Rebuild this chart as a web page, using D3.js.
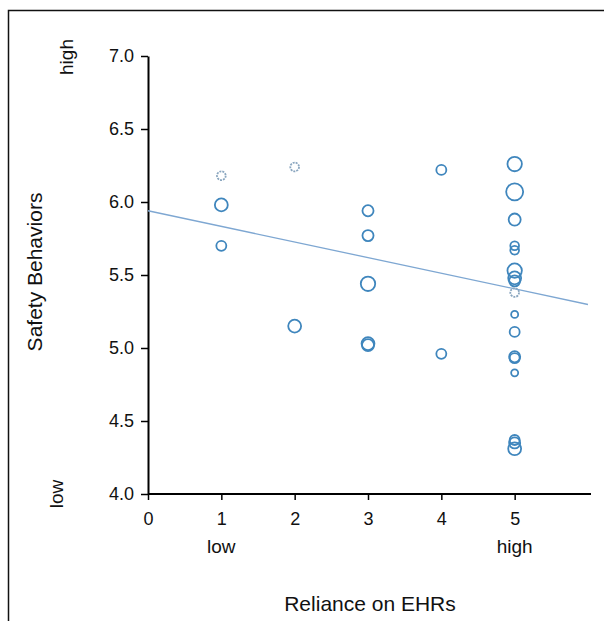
<!DOCTYPE html>
<html>
<head>
<meta charset="utf-8">
<script src="https://cdn.jsdelivr.net/npm/d3@7"></script>
<style>
  body { margin: 0; background: #fff; }
  svg { display: block; }
  .tick text { font-family: "Liberation Sans", Arial, sans-serif; font-size: 18px; fill: #111; }
  .lbl { font-family: "Liberation Sans", Arial, sans-serif; fill: #111; }
</style>
</head>
<body>
<div id="chart"></div>
<script>
// reliance on EHRs (x), safety behaviors (y), relative weight (circle size)
const reliance = [1, 1, 1, 2, 2, 3, 3, 3, 3, 3, 4, 4,
                  5, 5, 5, 5, 5, 5, 5, 5, 5, 5, 5, 5, 5, 5, 5, 5, 5];
const safety   = [6.18, 5.98, 5.70, 6.24, 5.15, 5.94, 5.77, 5.44, 5.03, 5.02, 6.22, 4.96,
                  6.26, 6.07, 5.88, 5.70, 5.67, 5.53, 5.48, 5.46, 5.38, 5.23, 5.11, 4.94, 4.93, 4.83, 4.37, 4.35, 4.31];
const weight   = [1, 3, 1.5, 1, 3, 2, 2, 4, 3, 2.5, 1.5, 1.5,
                  4, 6, 2.5, 1, 1, 4, 3, 2, 1, 0.5, 1.5, 2, 1.5, 0.5, 1.5, 2, 3];
const faded    = [true, false, false, true, false, false, false, false, false, false, false, false,
                  false, false, false, false, false, false, false, false, true, false, false, false, false, false, false, false, false];
const fit = {intercept: 5.94, slope: -0.107};
const xTicks = [0, 1, 2, 3, 4, 5];
const yTicks = [4.0, 4.5, 5.0, 5.5, 6.0, 6.5, 7.0];

const W = 604, H = 621;
const svg = d3.select('#chart').append('svg').attr('width', W).attr('height', H);

// frame (only top and left edges visible in the crop)
svg.append('path').attr('d', 'M8.5,' + H + 'V10.5H' + W)
    .attr('fill', 'none').attr('stroke', '#111').attr('stroke-width', 1.5);

const x = d3.scaleLinear().domain([0, 6]).range([148, 588]);
const y = d3.scaleLinear().domain([4, 7]).range([494, 56]);
const r = d3.scaleSqrt().domain([0, 6]).range([0, 7]);

const xAxis = svg.append('g')
    .attr('transform', 'translate(0,' + y(4) + ')')
    .call(d3.axisBottom(x).tickValues(xTicks).tickFormat(d3.format('d')).tickSize(6).tickSizeOuter(0).tickPadding(12));
xAxis.select('.domain').attr('d', 'M' + x(0) + ',0H' + (x(6) + 3)).attr('stroke-width', 2);
xAxis.selectAll('.tick line').attr('stroke-width', 1.5);

const yAxis = svg.append('g')
    .attr('transform', 'translate(' + x(0) + ',0)')
    .call(d3.axisLeft(y).tickValues(yTicks).tickFormat(d3.format('.1f')).tickSize(7).tickSizeOuter(0).tickPadding(7));
yAxis.select('.domain').attr('stroke-width', 2);
yAxis.selectAll('.tick line').attr('stroke-width', 1.5);

// regression line
svg.append('line')
    .attr('x1', x(0)).attr('y1', y(fit.intercept))
    .attr('x2', x(6)).attr('y2', y(fit.intercept + fit.slope * 6))
    .attr('stroke', '#7ea7d2').attr('stroke-width', 1.3);

const pts = reliance.map((d, i) => ({x: d, y: safety[i], w: weight[i], f: faded[i]}));
svg.append('g').selectAll('circle').data(pts).enter()
    .append('circle')
    .attr('cx', d => x(d.x))
    .attr('cy', d => y(d.y))
    .attr('r', d => r(d.w) + 1.5)
    .attr('fill', 'none')
    .attr('stroke', d => d.f ? '#8aa6bf' : '#3f86bd')
    .attr('stroke-dasharray', d => d.f ? '2,1' : null)
    .attr('stroke-width', 1.8);

// axis labels
svg.append('text').attr('class', 'lbl').attr('x', x(1)).attr('y', 553)
    .attr('text-anchor', 'middle').attr('font-size', 19).text('low');
svg.append('text').attr('class', 'lbl').attr('x', x(5)).attr('y', 553)
    .attr('text-anchor', 'middle').attr('font-size', 19).text('high');
svg.append('text').attr('class', 'lbl').attr('x', 370).attr('y', 611)
    .attr('text-anchor', 'middle').attr('font-size', 21).text('Reliance on EHRs');

svg.append('text').attr('class', 'lbl')
    .attr('transform', 'translate(73,' + 57 + ') rotate(-90)')
    .attr('text-anchor', 'middle').attr('font-size', 19).text('high');
svg.append('text').attr('class', 'lbl')
    .attr('transform', 'translate(63,' + y(4) + ') rotate(-90)')
    .attr('text-anchor', 'middle').attr('font-size', 19).text('low');
svg.append('text').attr('class', 'lbl')
    .attr('transform', 'translate(42,272) rotate(-90)')
    .attr('text-anchor', 'middle').attr('font-size', 21).text('Safety Behaviors');
</script>
</body>
</html>
